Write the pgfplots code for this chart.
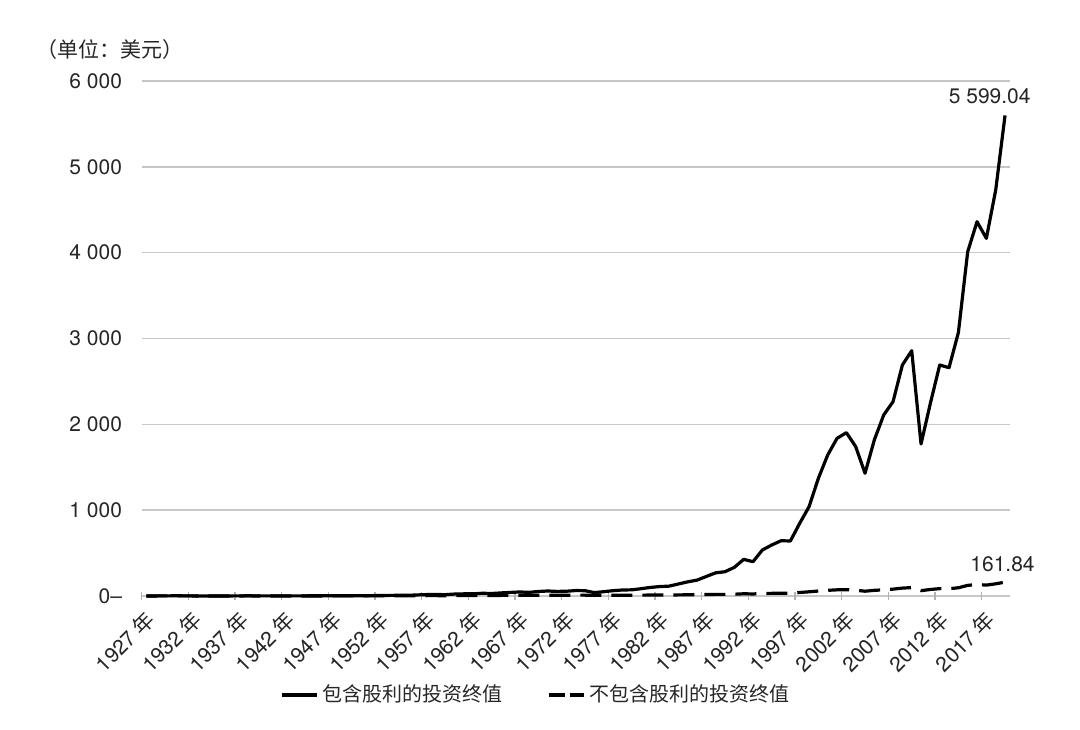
\documentclass[border=0pt]{standalone}
\usepackage{fontspec}
\usepackage{pgfplots}
\usepackage{pgfplotstable}
\pgfplotsset{compat=1.18}
\setmainfont{TeX Gyre Heros}
\newfontfamily\cjk{Noto Sans CJK SC}

\pgfplotstableread{
yr v
1927 1.0
1928 1.2
1929 1.6
1930 2.0
1931 1.8
1932 1.4
1933 0.8
1934 0.7
1935 1.1
1936 1.1
1937 1.6
1938 2.1
1939 1.4
1940 1.8
1941 1.8
1942 1.6
1943 1.4
1944 1.7
1945 2.2
1946 2.6
1947 3.5
1948 3.3
1949 3.4
1950 3.6
1951 4.3
1952 5.6
1953 7.0
1954 8.3
1955 8.2
1956 12.5
1957 16.5
1958 17.6
1959 15.7
1960 22.5
1961 25.2
1962 25.3
1963 32.1
1964 29.3
1965 36.0
1966 41.9
1967 47.1
1968 42.4
1969 52.6
1970 58.4
1971 53.5
1972 55.6
1973 63.5
1974 62
1975 40
1976 50
1977 62
1978 70
1979 72
1980 85
1981 100
1982 110
1983 115
1984 140
1985 165
1986 185
1987 228
1988 270
1989 283
1990 334
1991 427
1992 400
1993 536
1994 594
1995 644
1996 641
1997 847
1998 1040
1999 1371
2000 1643
2001 1837
2002 1903
2003 1740
2004 1430
2005 1820
2006 2109
2007 2264
2008 2691
2009 2858
2010 1771
2011 2245
2012 2691
2013 2660
2014 3068
2015 4011
2016 4361
2017 4167
2018 4730
2019 5599.04
}\withdiv

\pgfplotstableread{
yr v
1927 1.0
1928 1.2
1929 1.5
1930 1.9
1931 1.7
1932 1.2
1933 0.7
1934 0.6
1935 0.8
1936 0.8
1937 1.1
1938 1.4
1939 0.9
1940 1.1
1941 1.1
1942 0.9
1943 0.8
1944 0.9
1945 1.1
1946 1.2
1947 1.6
1948 1.4
1949 1.4
1950 1.4
1951 1.5
1952 1.8
1953 2.1
1954 2.4
1955 2.3
1956 3.3
1957 4.2
1958 4.3
1959 3.7
1960 5.1
1961 5.6
1962 5.4
1963 6.6
1964 5.9
1965 7.1
1966 8.1
1967 8.9
1968 7.8
1969 9.5
1970 10.2
1971 9.1
1972 9.2
1973 10.2
1974 10
1975 7
1976 8.5
1977 8
1978 9
1979 9
1980 10
1981 11
1982 12
1983 12
1984 13
1985 14
1986 15
1987 17
1988 19
1989 19
1990 21
1991 26
1992 24
1993 29
1994 31
1995 33
1996 32
1997 41
1998 49
1999 58
2000 66
2001 72
2002 74
2003 67
2004 56
2005 66
2006 72
2007 80
2008 92
2009 98
2010 62
2011 76
2012 86
2013 85
2014 96
2015 124
2016 134
2017 127
2018 142
2019 161.84
}\nodiv

\begin{document}
\begin{tikzpicture}
\useasboundingbox (0,0) rectangle (540pt,364.5pt);
\node[font=\fontsize{10.5}{12}\selectfont\cjk, text=black!85] at (55pt,339.5pt) {（单位：美元）};
\begin{axis}[
  at={(70.85pt,66.5pt)}, anchor=south west,
  scale only axis, width=434pt, height=257.5pt,
  xmin=1926.5, xmax=2019.5, ymin=0, ymax=6000,
  clip=false,
  axis line style={draw=none},
  ytick={0,1000,...,6000},
  yticklabels={0–,1 000,2 000,3 000,4 000,5 000,6 000},
  ymajorgrids,
  grid style={draw=black!22, line width=0.7pt},
  ytick style={draw=none},
  xtick={1927,1932,...,2017},
  xticklabels={1927 {\cjk 年},1932 {\cjk 年},1937 {\cjk 年},1942 {\cjk 年},1947 {\cjk 年},1952 {\cjk 年},1957 {\cjk 年},1962 {\cjk 年},1967 {\cjk 年},1972 {\cjk 年},1977 {\cjk 年},1982 {\cjk 年},1987 {\cjk 年},1992 {\cjk 年},1997 {\cjk 年},2002 {\cjk 年},2007 {\cjk 年},2012 {\cjk 年},2017 {\cjk 年}},
  major x tick style={draw=none},
  minor xtick={1926.5,1931.5,...,2016.5},
  minor x tick style={draw=black!30, line width=0.6pt},
  minor tick length=4pt,
  tick align=center,
  xtick pos=bottom, ytick pos=left,
  yticklabel style={anchor=east, inner sep=0pt, xshift=-7.5pt, font=\fontsize{10.5}{12}\selectfont, text=black!85},
  xticklabel style={xshift=2.5pt, yshift=-7.5pt, rotate=45, anchor=east, inner sep=0pt, font=\fontsize{10.5}{12}\selectfont, text=black!85},
  legend style={at={(0.4554,-0.1922)}, anchor=center, draw=none, fill=none,
    font=\fontsize{10}{12}\selectfont\cjk, text=black!85,
    /tikz/every even column/.append style={column sep=20pt}},
  legend columns=2,
  legend cell align=left,
]
\addplot[black, line width=1.6pt, line join=round,
  legend image code/.code={\draw[black, line width=1.6pt] (0pt,0pt) -- (17.5pt,0pt);}]
  table[x=yr, y=v] {\withdiv};
\addlegendentry{包含股利的投资终值}
\addplot[black, line width=1.6pt, line join=round, dash pattern=on 10.5pt off 5pt,
  legend image code/.code={\draw[black, line width=1.6pt, dash pattern=on 8pt off 2.5pt] (0pt,0pt) -- (17.5pt,0pt);}]
  table[x=yr, y=v] {\nodiv};
\addlegendentry{不包含股利的投资终值}
\node[font=\fontsize{10.5}{12}\selectfont, text=black!85, xshift=-7.65pt, yshift=9.85pt] at (axis cs:2019,5599.04) {5 599.04};
\node[font=\fontsize{10.5}{12}\selectfont, text=black!85, xshift=-1.25pt, yshift=9.2pt] at (axis cs:2019,161.84) {161.84};
\end{axis}
\end{tikzpicture}
\end{document}
